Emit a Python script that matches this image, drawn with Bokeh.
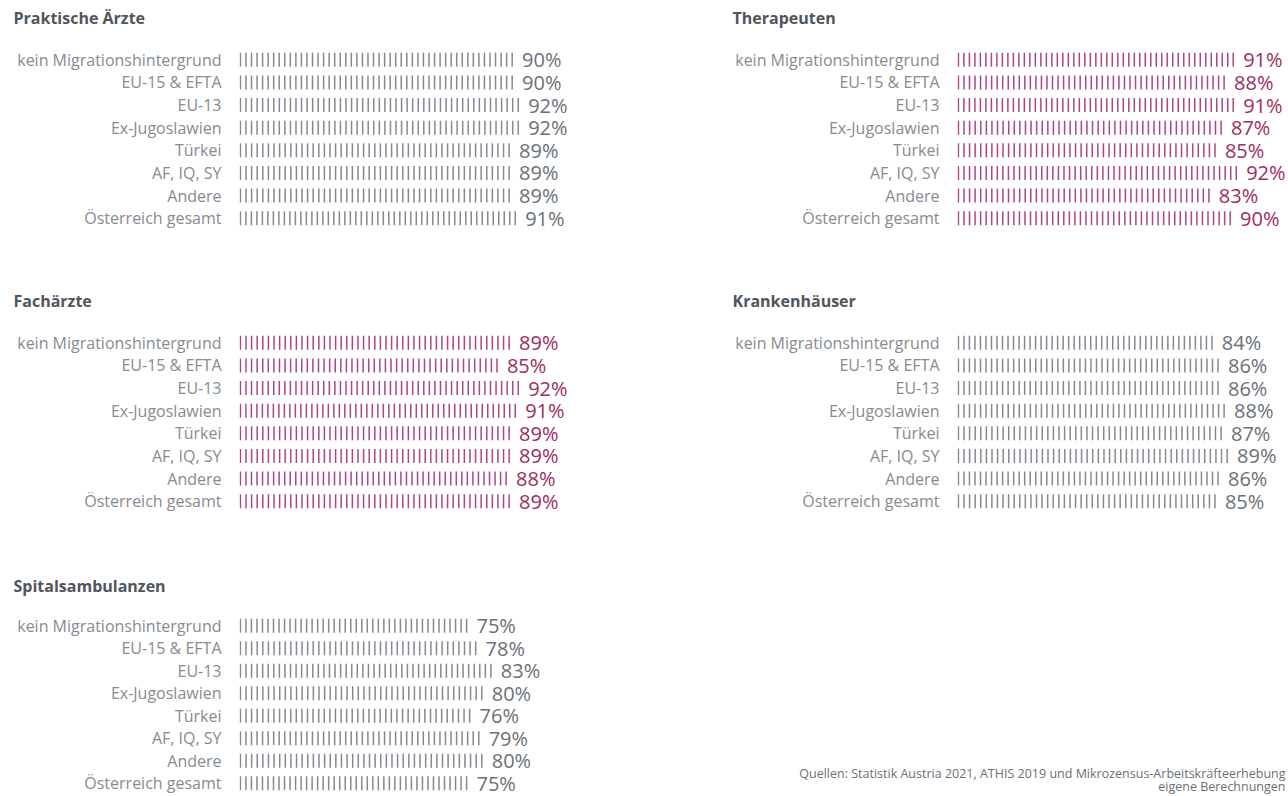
import numpy as np
from bokeh.plotting import figure
from bokeh.models import FactorRange, Range1d, Title
from bokeh.layouts import row, column
from bokeh.embed import file_html
from bokeh.resources import INLINE
from bokeh.core.properties import value

# ---------------- data ----------------
categories = ["kein Migrationshintergrund", "EU-15 & EFTA", "EU-13", "Ex-Jugoslawien",
              "Türkei", "AF, IQ, SY", "Andere", "Österreich gesamt"]
panel_titles = ["Praktische Ärzte", "Therapeuten", "Fachärzte", "Krankenhäuser", "Spitalsambulanzen"]
praktische_aerzte = [90, 90, 92, 92, 89, 89, 89, 91]
therapeuten = [91, 88, 91, 87, 85, 92, 83, 90]
fachaerzte = [89, 85, 92, 91, 89, 89, 88, 89]
krankenhaeuser = [84, 86, 86, 88, 87, 89, 86, 85]
spitalsambulanzen = [75, 78, 83, 80, 76, 79, 80, 75]
footnote_lines = ["Quellen: Statistik Austria 2021, ATHIS 2019 und Mikrozensus-Arbeitskräfteerhebung",
                  "eigene Berechnungen"]

# ---------------- style ----------------
FONT = "Open Sans"
GREY_TICK = "#838a92"
GREY_TEXT = "#6b7178"
MAG_TICK = "#ab4880"
MAG_TEXT = "#9b2d63"
LABEL_COLOR = "#868b91"
TITLE_COLOR = "#50565c"
PX_PER_PCT = 3.04
TICK_STEP = 1.8          # percent covered by one tick mark
LEFT_BORDER = 239
LEFT_W, RIGHT_W = 718, 570
FRAME_H = 181
TITLE_STANDOFF = 12
TITLE_SIZE = 2 + 1.362 * 16 + TITLE_STANDOFF   # height Bokeh reserves for the title


def panel(title, values, tick_color, text_color, width, top, bottom, title_x):
    frame_w = width - LEFT_BORDER
    p = figure(width=width, height=top + FRAME_H + bottom, output_backend="svg",
               toolbar_location=None, tools="",
               x_range=Range1d(0, frame_w / PX_PER_PCT),
               y_range=FactorRange(factors=categories[::-1], range_padding=0),
               x_axis_location=None, min_border_left=LEFT_BORDER, min_border_right=0,
               min_border_top=top, min_border_bottom=bottom)
    p.outline_line_color = None
    p.xgrid.visible = False
    p.ygrid.visible = False
    p.background_fill_color = "white"
    p.border_fill_color = "white"

    xs, ys = [], []
    for c, v in zip(categories, values):
        n = int(round(v / TICK_STEP))
        pos = np.linspace(0.3, v - 0.3, n)
        xs.extend(pos.tolist())
        ys.extend([c] * n)
    p.rect(x=xs, y=ys, width=1.5, width_units="screen", height=0.62,
           fill_color=tick_color, line_color=None)

    p.text(x=values, y=categories, text=[f"{v}%" for v in values], x_offset=9,
           text_baseline="middle", text_align="left", text_font=value(FONT),
           text_font_size="20px", text_color=text_color)

    ax = p.yaxis[0]
    ax.axis_line_color = None
    ax.major_tick_line_color = None
    ax.minor_tick_line_color = None
    ax.major_tick_out = 0
    ax.major_tick_in = 0
    ax.major_label_standoff = 18
    ax.major_label_text_font = FONT
    ax.major_label_text_font_size = "16px"
    ax.major_label_text_color = LABEL_COLOR

    # spacer between frame and title so the title sits near the top edge
    spacer_h = top - TITLE_SIZE - 2
    spacer = Title(text=" ", text_font=FONT, text_font_size=f"{spacer_h / 1.362:.2f}px",
                   standoff=0)
    p.add_layout(spacer, "above")
    t = Title(text=title, text_font=FONT, text_font_style="bold", text_font_size="16px",
              text_color=TITLE_COLOR, align="left", vertical_align="top",
              offset=title_x - LEFT_BORDER, standoff=TITLE_STANDOFF)
    p.add_layout(t, "above")
    return p


f1 = panel(panel_titles[0], praktische_aerzte, GREY_TICK, GREY_TEXT, LEFT_W, 48, 54, 13)
f2 = panel(panel_titles[1], therapeuten, MAG_TICK, MAG_TEXT, RIGHT_W, 48, 54, 732 - LEFT_W)
f3 = panel(panel_titles[2], fachaerzte, MAG_TICK, MAG_TEXT, LEFT_W, 48, 56, 13)
f4 = panel(panel_titles[3], krankenhaeuser, GREY_TICK, GREY_TEXT, RIGHT_W, 48, 56, 732 - LEFT_W)
f5 = panel(panel_titles[4], spitalsambulanzen, GREY_TICK, GREY_TEXT, LEFT_W, 45, 2, 13)

H6 = 47 + FRAME_H
f6 = figure(width=RIGHT_W, height=H6, output_backend="svg", toolbar_location=None,
            tools="", x_range=Range1d(0, RIGHT_W), y_range=Range1d(0, H6),
            x_axis_location=None, y_axis_location=None,
            min_border_left=0, min_border_right=0, min_border_top=0, min_border_bottom=0)
f6.outline_line_color = None
f6.xgrid.visible = False
f6.ygrid.visible = False
f6.text(x=[RIGHT_W - 3, RIGHT_W - 3], y=[26, 10], text=footnote_lines, text_align="right",
        text_baseline="middle", text_font=value(FONT), text_font_size="12.5px",
        text_color="#6b6f75")

layout = column(row(f1, f2), row(f3, f4), row(f5, f6))

open("out.html", "w").write(file_html(layout, INLINE))
